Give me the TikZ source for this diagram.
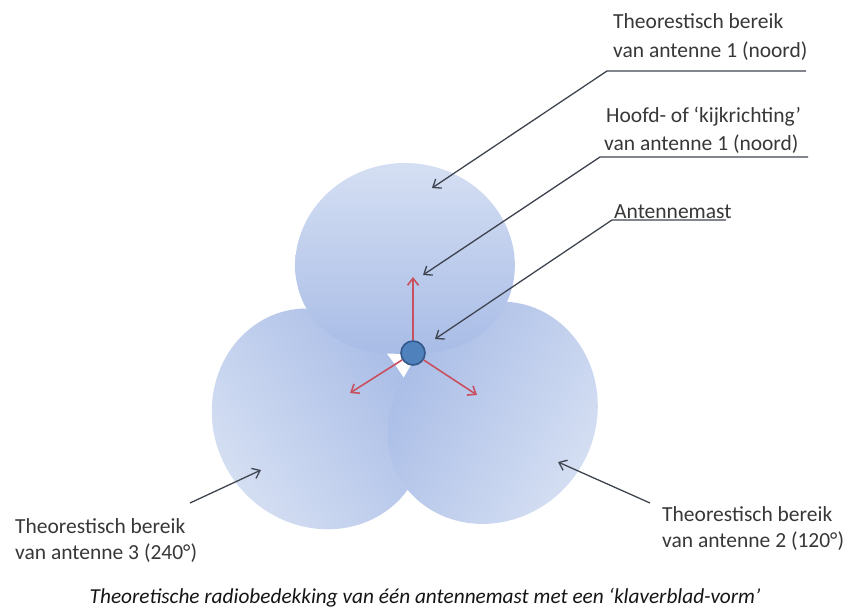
\documentclass[tikz,border=0pt]{standalone}
\usepackage{fontspec}
\setmainfont{Carlito}
\usetikzlibrary{arrows.meta}
\definecolor{lbl}{HTML}{383838}
\definecolor{leadgray}{HTML}{3F4550}
\definecolor{redarrow}{HTML}{C8505F}
\definecolor{lobelight}{HTML}{D5DFF3}
\definecolor{lobedark}{HTML}{A8BCE6}
\definecolor{mastfill}{HTML}{4F81BD}
\definecolor{mastdraw}{HTML}{34578A}
\definecolor{captioncol}{HTML}{151515}
\begin{document}
\begin{tikzpicture}[x=1pt,y=-1pt,
  lbltext/.style={anchor=base west, inner sep=0pt, text=lbl, font=\fontsize{21.5}{26}\selectfont},
  captiontext/.style={anchor=base, inner sep=0pt, text=captioncol, font=\fontsize{21.3}{26}\selectfont\itshape},
  leader/.style={draw=leadgray, line width=1.3pt, line join=round, -{Straight Barb[length=7pt,width=11pt,line width=1.3pt]}},
  redarr/.style={draw=redarrow, line width=1.6pt, -{Straight Barb[length=7pt,width=11pt,line width=1.6pt]}},
  mastnode/.style={circle, fill=mastfill, draw=mastdraw, line width=1.6pt, minimum size=24pt, inner sep=0pt},
  lobe/.style={top color=lobelight, bottom color=lobedark}
]
\useasboundingbox (0,0) rectangle (850,610);
\fill[white] (0,0) rectangle (850,610);

% lobes: left (240), right (120), top (noord)
\shade[lobe, shading angle=125] plot[domain=-90:90, samples=121, variable=\t]
  ({395.5 + 198*pow(max(cos(\t),0.0001),0.65)*cos(\t+215)},
   {365.5 - 198*pow(max(cos(\t),0.0001),0.65)*sin(\t+215)}) -- cycle;
\shade[lobe, shading angle=-121] plot[domain=-90:90, samples=121, variable=\t]
  ({411 + 198*pow(max(cos(\t),0.0001),0.65)*cos(\t-31)},
   {365 - 198*pow(max(cos(\t),0.0001),0.65)*sin(\t-31)}) -- cycle;
\shade[lobe] plot[domain=-90:90, samples=121, variable=\t]
  ({405 + 191*pow(max(cos(\t),0.0001),0.65)*cos(\t+90)},
   {354 - 191*pow(max(cos(\t),0.0001),0.65)*sin(\t+90)}) -- cycle;

% antenna mast and main directions
\node[mastnode] (mast) at (413,353) {};
\coordinate (dir1) at (413,277);
\coordinate (dir2) at (477,395);
\coordinate (dir3) at (350,393);
\draw[redarr] (mast) -- (dir1);
\draw[redarr] (mast) -- (dir2);
\draw[redarr] (mast) -- (dir3);

% labels top right
\node[lbltext] (l1a) at (613,29) {Theorestisch bereik};
\node[lbltext] (l1b) at (613,57) {van antenne 1 (noord)};
\node[lbltext] (l2a) at (606,122) {Hoofd- of ‘kijkrichting’};
\node[lbltext] (l2b) at (604,150) {van antenne 1 (noord)};
\node[lbltext] (l3) at (614,218) {Antennemast};

\coordinate (u1r) at (806,71);
\coordinate (u1l) at (607,71);
\coordinate (tip1) at (432,188);
\coordinate (u2r) at (808,157);
\coordinate (u2l) at (600,157);
\coordinate (tip2) at (423,275);
\coordinate (u3r) at (726,220);
\coordinate (u3l) at (612,220);
\coordinate (tip3) at (435,339);
\draw[leader] (u1r) -- (u1l) -- (tip1);
\draw[leader] (u2r) -- (u2l) -- (tip2);
\draw[leader] (u3r) -- (u3l) -- (tip3);

% labels bottom
\node[lbltext] (l4a) at (15,533) {Theorestisch bereik};
\node[lbltext] (l4b) at (15,559) {van antenne 3 (240°)};
\node[lbltext] (l5a) at (662,521) {Theorestisch bereik};
\node[lbltext] (l5b) at (662,547) {van antenne 2 (120°)};
\coordinate (s4) at (190,503);
\coordinate (tip4) at (261,470);
\coordinate (s5) at (650,503);
\coordinate (tip5) at (558,462);
\draw[leader] (s4) -- (tip4);
\draw[leader] (s5) -- (tip5);

% caption
\node[captiontext] (cap) at (425,603) {Theoretische radiobedekking van één antennemast met een ‘klaverblad-vorm’};
\end{tikzpicture}
\end{document}
